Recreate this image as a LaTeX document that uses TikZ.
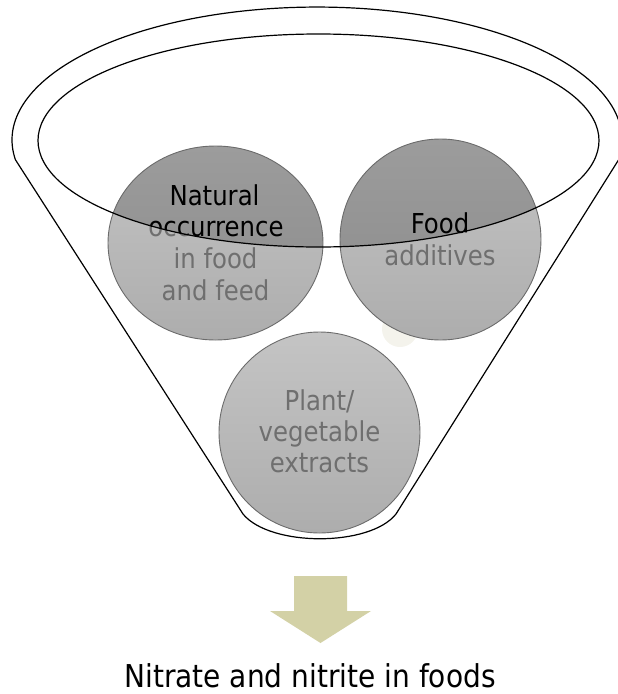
\documentclass[tikz,border=0pt]{standalone}
\usepackage{fontspec}
\setmainfont{DejaVu Sans}[FakeStretch=0.89]
\definecolor{txtgray}{HTML}{6F6F6F}
\definecolor{ringline}{HTML}{6B6B6B}
\definecolor{lighttop}{HTML}{C4C4C4}
\definecolor{lightbot}{HTML}{ADADAD}
\definecolor{darktop}{HTML}{9C9C9C}
\definecolor{darkbot}{HTML}{8A8A8A}
\definecolor{arrowfill}{RGB}{211,209,166}
\definecolor{blob}{HTML}{F4F3EC}
\tikzset{
  funnelline/.style={draw=black, line width=1.2pt, line join=round},
  lightball/.style={top color=lighttop, bottom color=lightbot},
  darkball/.style={top color=darktop, bottom color=darkbot},
  ballline/.style={draw=ringline, line width=0.9pt},
  ctxt/.style={anchor=base, inner sep=0pt, font=\fontsize{27.4}{31}\selectfont},
  ftxt/.style={anchor=base, inner sep=0pt, font=\fontsize{31.5}{36}\selectfont, text=black}
}
\newcommand\balltexts{%
  \node[ctxt] (n1) at (214.5,205) {Natural};
  \node[ctxt] (n2) at (216,236) {occurrence};
  \node[ctxt] (n3) at (215.5,268) {in food};
  \node[ctxt] (n4) at (215.5,300) {and feed};
  \node[ctxt] (f1) at (440,233) {Food};
  \node[ctxt] (f2) at (440,265) {additives};
  \node[ctxt] (p1) at (319.5,410.5) {Plant/};
  \node[ctxt] (p2) at (319.5,441.5) {vegetable};
  \node[ctxt] (p3) at (319.5,472.5) {extracts};
}
\begin{document}
\begin{tikzpicture}[x=1pt, y=-1pt]
\clip (0,0) rectangle (618,694);
% faint blob behind
\fill[blob] (400,329) circle[radius=18pt];
% light balls
\path[lightball] (215.5,243) ellipse[x radius=107.5pt, y radius=97pt];
\path[lightball] (440.5,239.5) circle[radius=100.5pt];
\path[lightball] (319.5,432.5) circle[radius=100.5pt];
% gray texts
\begin{scope}[name prefix=g-, every node/.append style={text=txtgray}]
\balltexts
\end{scope}
% darker part inside the funnel mouth
\begin{scope}
  \clip (318.5,140.5) ellipse[x radius=280.5pt, y radius=106.5pt];
  \path[darkball] (215.5,243) ellipse[x radius=107.5pt, y radius=97pt];
  \path[darkball] (440.5,239.5) circle[radius=100.5pt];
  \begin{scope}[name prefix=k-, every node/.append style={text=black}]
  \balltexts
  \end{scope}
\end{scope}
% ball outlines
\draw[ballline] (215.5,243) ellipse[x radius=107.5pt, y radius=97pt];
\draw[ballline] (440.5,239.5) circle[radius=100.5pt];
\draw[ballline] (319.5,432.5) circle[radius=100.5pt];
% funnel
\draw[funnelline] (318.5,140.5) ellipse[x radius=280.5pt, y radius=106.5pt];
\draw[funnelline] (15.4,159.7) arc[start angle=188.5, end angle=-8.5, x radius=305pt, y radius=133pt]
  -- (396,514) .. controls (370,547) and (270,547) .. (243,514) -- cycle;
% arrow
\fill[arrowfill] (294,576) -- (347,576) -- (347,611) -- (371,611) -- (320.5,643) -- (270,611) -- (294,611) -- cycle;
% result text
\node[ftxt] (res) at (310,687) {Nitrate and nitrite in foods};
\end{tikzpicture}
\end{document}
